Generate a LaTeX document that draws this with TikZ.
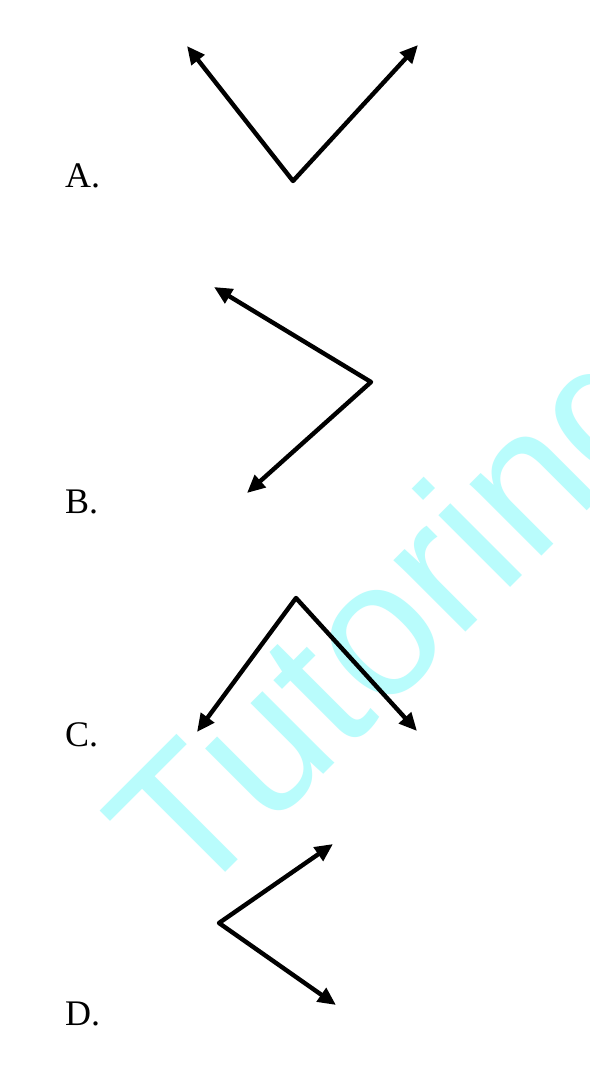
\documentclass[tikz,border=0pt]{standalone}
\usepackage{fontspec}
\setmainfont{Liberation Serif}
\newfontfamily\wmfont{Liberation Sans}
\usetikzlibrary{arrows.meta}
\definecolor{wmcyan}{RGB}{185,252,252}
\tikzset{
  vecs/.style={line width=4.4pt, line join=round, {Triangle[length=18pt,width=16pt]}-{Triangle[length=18pt,width=16pt]}},
  lbl/.style={anchor=base west, inner sep=0pt, font=\fontsize{36}{36}\selectfont},
  wm/.style={anchor=base west, inner sep=0pt, rotate=45, text=wmcyan, font=\wmfont\fontsize{192}{192}\selectfont}
}
\begin{document}
\begin{tikzpicture}[x=1pt,y=-1pt]
\fill[white] (0,0) rectangle (589,1081);
\useasboundingbox (0,0) rectangle (589,1081);
\begin{scope}
\clip (0,0) rectangle (589,1081);
\node[wm] (wmark) at (190,908) {Tutoring};
\end{scope}
% A
\coordinate (Av) at (293,181);
\coordinate (Al) at (187,46);
\coordinate (Ar) at (418,45);
\draw[vecs] (Al) -- (Av) -- (Ar);
\node[lbl] (la) at (65,187) {A.};
% B
\coordinate (Bv) at (371,382);
\coordinate (Bt) at (214,287);
\coordinate (Bb) at (247,493);
\draw[vecs] (Bt) -- (Bv) -- (Bb);
\node[lbl] (lb) at (65,513) {B.};
% C
\coordinate (Cv) at (296,598);
\coordinate (Cl) at (197,732);
\coordinate (Cr) at (417,731);
\draw[vecs] (Cl) -- (Cv) -- (Cr);
\node[lbl] (lc) at (65,746) {C.};
% D
\coordinate (Dv) at (219,923);
\coordinate (Dt) at (333,844);
\coordinate (Db) at (336,1005);
\draw[vecs] (Dt) -- (Dv) -- (Db);
\node[lbl] (ld) at (65,1025) {D.};
\end{tikzpicture}
\end{document}
